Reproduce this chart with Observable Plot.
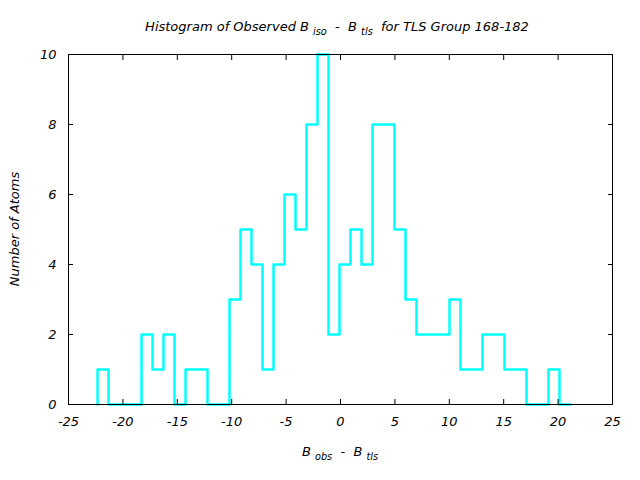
<!DOCTYPE html>
<html><head><meta charset="utf-8">
<script src="https://cdn.jsdelivr.net/npm/d3@7"></script>
<script src="https://cdn.jsdelivr.net/npm/@observablehq/plot@0.6"></script>
<style>
body{margin:0;background:#fff}
svg text{font-family:"DejaVu Sans",sans-serif;}
</style>
</head><body><div id="chart"></div>
<script>
// Histogram counts per bin (43 bins)
const counts = [1,0,0,0,2,1,2,0,1,1,0,0,3,5,4,1,4,6,5,8,10,2,4,5,4,8,8,5,3,2,2,2,3,1,1,2,2,1,1,0,0,1,0];
const binLo = -22.33;   // left edge of first bin
const binHi = 21.14;    // right edge of last bin
const xTicks = [-25,-20,-15,-10,-5,0,5,10,15,20,25];
const yTicks = [0,2,4,6,8,10];
const titleParts = [["Histogram of Observed B ", false],["iso", true],["  -  B ", false],["tls", true],["  for TLS Group 168-182", false]];
const xLabelParts = [["B ", false],["obs", true],["  -  B ", false],["tls", true]];
const yLabel = "Number of Atoms";

const w = (binHi - binLo) / counts.length;
const pts = [{x: binLo, y: 0}];
counts.forEach((c, i) => pts.push({x: binLo + i * w, y: c}));
pts.push({x: binHi, y: counts[counts.length - 1]});

const fs = 13;
const plot = Plot.plot({
  width: 640, height: 480,
  marginTop: 54, marginRight: 28, marginBottom: 76, marginLeft: 68,
  x: {domain: [-25, 25]},
  y: {domain: [0, 10]},
  style: {fontSize: fs + "px", fontStyle: "italic", fontFamily: "DejaVu Sans"},
  marks: [
    Plot.lineY(pts, {x: "x", y: "y", curve: "step-after", stroke: "#00ffff", strokeWidth: 2.5}),
    Plot.frame({stroke: "black", strokeWidth: 1}),
    Plot.axisX(xTicks, {anchor: "bottom", tickSize: -5, tickFormat: () => "", label: null}),
    Plot.axisX(xTicks, {anchor: "top", tickSize: -5, tickFormat: () => "", label: null}),
    Plot.axisY(yTicks, {anchor: "left", tickSize: -5, tickFormat: () => "", label: null}),
    Plot.axisY(yTicks, {anchor: "right", tickSize: -5, tickFormat: () => "", label: null}),
    Plot.axisX(xTicks, {anchor: "bottom", tickSize: 0, tickPadding: 12, tickFormat: d => String(d), label: null, fill: "black"}),
    Plot.axisY(yTicks, {anchor: "left", tickSize: 0, tickPadding: 12, tickFormat: d => String(d), label: null, fill: "black"})
  ]
});
document.getElementById("chart").appendChild(plot);

const svg = d3.select(plot);
function addText(parts, x, y, rotate) {
  const t = svg.append("text")
    .attr("text-anchor", "middle")
    .attr("font-style", "italic")
    .attr("font-size", fs)
    .attr("fill", "black")
    .style("white-space", "pre")
    .attr("transform", `translate(${x},${y})` + (rotate ? ` rotate(${rotate})` : ""));
  let prevSub = false;
  parts.forEach(([s, sub]) => {
    const sp = t.append("tspan").text(s);
    if (sub) { sp.attr("font-size", fs * 0.75).attr("dy", prevSub ? 0 : 4); }
    else { sp.attr("dy", prevSub ? -4 : 0); }
    prevSub = sub;
  });
  return t;
}
addText(titleParts, 337, 31);
addText(xLabelParts, 340, 456);
addText([[yLabel, false]], 19, 229, -90);
</script>
</body></html>
